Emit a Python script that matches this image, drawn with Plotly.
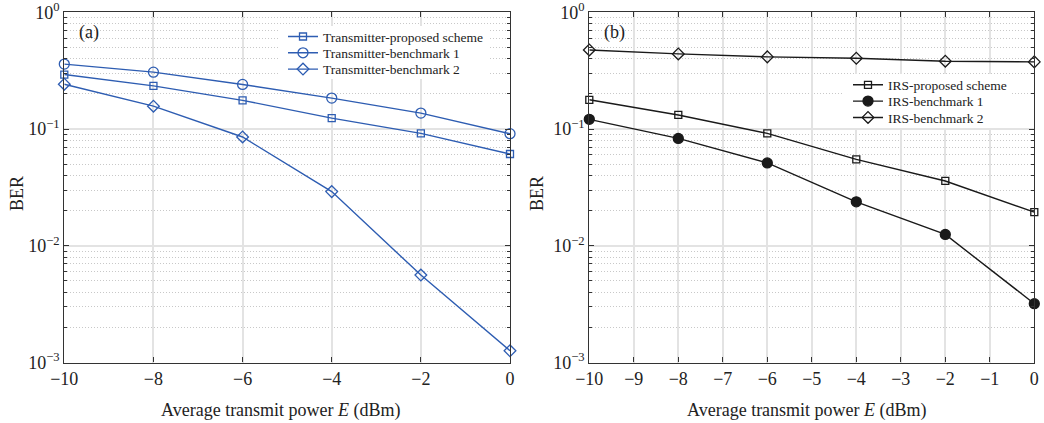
import plotly.graph_objects as go

# ---- data ----
power = [-10, -8, -6, -4, -2, 0]

tx_proposed = [0.293, 0.234, 0.176, 0.124, 0.0917, 0.0611]
tx_bench1 = [0.360, 0.307, 0.241, 0.184, 0.137, 0.0912]
tx_bench2 = [0.242, 0.157, 0.0855, 0.0291, 0.00561, 0.00126]

irs_proposed = [0.178, 0.132, 0.0917, 0.0550, 0.0359, 0.0194]
irs_bench1 = [0.121, 0.0831, 0.0512, 0.0238, 0.0125, 0.00319]
irs_bench2 = [0.476, 0.440, 0.415, 0.404, 0.381, 0.376]

y_tickvals = [0.001, 0.01, 0.1, 1]
y_ticktext = ["10<sup>\u22123</sup>", "10<sup>\u22122</sup>", "10<sup>\u22121</sup>", "10<sup>0</sup>"]
x_ticks_a = [-10, -8, -6, -4, -2, 0]
x_ticks_b = [-10, -9, -8, -7, -6, -5, -4, -3, -2, -1, 0]

BLUE = "#2e5db2"
BLACK = "#1a1a1a"
FONT = "Liberation Serif"
AXC = "#333333"
W, H = 1044, 423

minor_vals = [m * 10 ** e for e in (-3, -2, -1) for m in range(2, 10)]

fig = go.Figure()

def add(x, y, name, color, symbol, size, xa, ya, legend):
    fig.add_trace(go.Scatter(
        x=x, y=y, name=name, mode="lines+markers",
        line=dict(color=color, width=1.4),
        marker=dict(symbol=symbol, size=size, color=color,
                    line=dict(color=color, width=1.3)),
        xaxis=xa, yaxis=ya, legend=legend, cliponaxis=False))

add(power, tx_proposed, "Transmitter-proposed scheme", BLUE, "square-open", 7, "x", "y", "legend")
add(power, tx_bench1, "Transmitter-benchmark 1", BLUE, "circle-open", 10, "x", "y", "legend2")
add(power, tx_bench2, "Transmitter-benchmark 2", BLUE, "diamond-open", 9, "x", "y", "legend3")

add(power, irs_proposed, "IRS-proposed scheme", BLACK, "square-open", 7, "x2", "y2", "legend4")
add(power, irs_bench1, "IRS-benchmark 1", BLACK, "circle", 10, "x2", "y2", "legend5")
add(power, irs_bench2, "IRS-benchmark 2", BLACK, "diamond-open", 9, "x2", "y2", "legend6")

def xaxis(dom, ticks, anchor):
    return dict(domain=dom, anchor=anchor, range=[-10, 0], tickmode="array", automargin=False,
                tickvals=ticks, ticktext=[("\u2212%d" % -t) if t < 0 else str(t) for t in ticks],
                ticks="inside", ticklen=5, tickcolor=AXC, showline=True, linecolor=AXC,
                linewidth=1.3, mirror="allticks", showgrid=True, gridcolor="#e3e3e3",
                gridwidth=1.8, zeroline=False,
                tickfont=dict(family=FONT, size=18, color="#222"))

def yaxis(dom, anchor):
    return dict(domain=dom, anchor=anchor, type="log", range=[-3, 0], tickmode="array",
                automargin=False,
                tickvals=y_tickvals, ticktext=y_ticktext,
                ticks="inside", ticklen=5, tickcolor=AXC, showline=True, linecolor=AXC,
                linewidth=1.3, mirror="allticks", showgrid=True, gridcolor="#e3e3e3",
                gridwidth=1.8, zeroline=False,
                minor=dict(tickmode="array", tickvals=minor_vals, ticks="inside", ticklen=3,
                           tickcolor=AXC, showgrid=True, griddash="1px,2px",
                           gridcolor="#c8c8c8", gridwidth=1),
                tickfont=dict(family=FONT, size=18, color="#222"))

def leg(xpx, ypx):
    return dict(x=xpx / W, y=1 - ypx / H, xanchor="left", yanchor="middle",
                bgcolor="rgba(0,0,0,0)", borderwidth=0, tracegroupgap=0,
                font=dict(family=FONT, size=13.5, color="#222"))

ydom = [1 - 362.5 / H, 1 - 12.3 / H]
fig.update_layout(
    width=W, height=H,
    margin=dict(l=0, r=0, t=0, b=0),
    paper_bgcolor="white", plot_bgcolor="white",
    font=dict(family=FONT, color="#222"),
    xaxis=xaxis([64.3 / W, 510 / W], x_ticks_a, "y"),
    yaxis=yaxis(ydom, "x"),
    xaxis2=xaxis([589.3 / W, 1034.3 / W], x_ticks_b, "y2"),
    yaxis2=yaxis(ydom, "x2"),
    legend=leg(283, 36.7),
    legend2=leg(283, 53.0),
    legend3=leg(283, 69.3),
    legend4=leg(848, 85.0),
    legend5=leg(848, 101.3),
    legend6=leg(848, 117.7),
    showlegend=True,
)

# white legend boxes
for x0, x1, y0, y1 in ((279, 488, 26, 79), (843, 1012, 74, 128)):
    fig.add_shape(type="rect", xref="paper", yref="paper",
                  x0=x0 / W, x1=x1 / W, y0=1 - y1 / H, y1=1 - y0 / H,
                  fillcolor="white", line=dict(width=0), layer="above")

ann = [
    dict(text="(a)", x=89 / W, y=1 - 32 / H, size=18),
    dict(text="(b)", x=614 / W, y=1 - 32 / H, size=18),
    dict(text="Average transmit power <i>E</i> (dBm)", x=281 / W, y=1 - 410 / H, size=18),
    dict(text="Average transmit power <i>E</i> (dBm)", x=807 / W, y=1 - 410 / H, size=18),
]
for a in ann:
    fig.add_annotation(text=a["text"], x=a["x"], y=a["y"], xref="paper", yref="paper",
                       showarrow=False, xanchor="center", yanchor="middle",
                       font=dict(family=FONT, size=a["size"], color="#222"))
for xpos in (17, 537):
    fig.add_annotation(text="BER", x=xpos / W, y=1 - 194 / H, xref="paper", yref="paper",
                       showarrow=False, textangle=-90, xanchor="center", yanchor="middle",
                       font=dict(family=FONT, size=18, color="#222"))

fig.write_html("out.html")
